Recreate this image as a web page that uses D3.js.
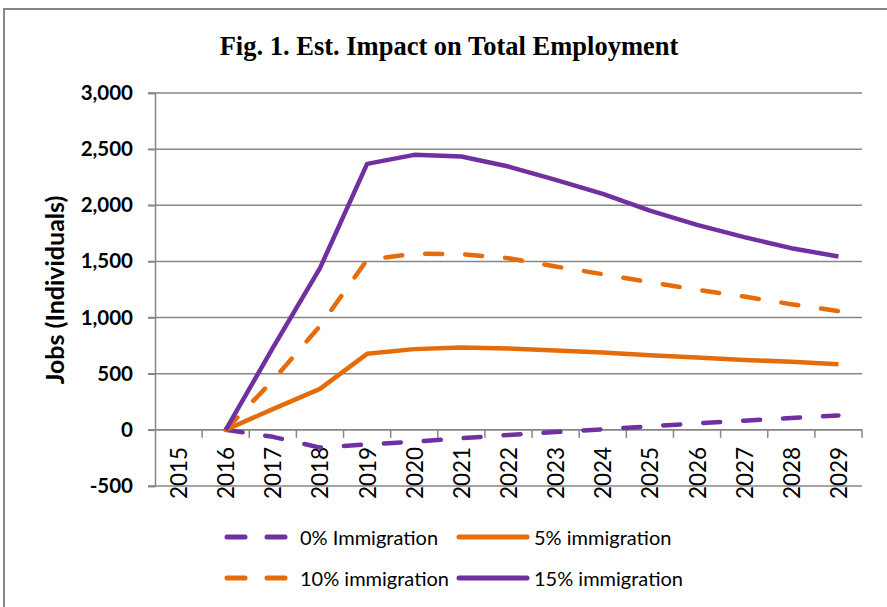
<!DOCTYPE html>
<html>
<head>
<meta charset="utf-8">
<script src="https://cdn.jsdelivr.net/npm/d3@7.9.0/dist/d3.min.js"></script>
<style>
  body { margin: 0; background: #fff; }
  svg { display: block; }
  text { font-family: Lato, 'Open Sans', sans-serif; fill: #000; }
</style>
</head>
<body>
<svg width="887" height="607"></svg>
<script>
const years = ['2015', '2016', '2017', '2018', '2019', '2020', '2021', '2022',
  '2023', '2024', '2025', '2026', '2027', '2028', '2029'];
const yTicks = [-500, 0, 500, 1000, 1500, 2000, 2500, 3000];

// 2015 has no value
const imm0 = [null, 0, -62, -158, -130, -105, -75, -45, -20, 5, 32, 58, 82, 105, 128];
const imm5 = [null, 0, 185, 365, 677, 719, 733, 724, 707, 689, 665, 644, 623, 606, 585];
const imm10 = [null, 0, 440, 925, 1514, 1568, 1565, 1529, 1455, 1386, 1315, 1247, 1187, 1119, 1057];
const imm15 = [null, 0, 730, 1440, 2369, 2449, 2434, 2345, 2227, 2102, 1953, 1826, 1716, 1618, 1544];

const purple = '#7030a0';
const orange = '#e46c0a';
const grey = '#868686';

const series = [
  { label: '0% Immigration', values: imm0, color: purple, dash: true },
  { label: '5% immigration', values: imm5, color: orange, dash: false },
  { label: '10% immigration', values: imm10, color: orange, dash: true },
  { label: '15% immigration', values: imm15, color: purple, dash: false },
];

const svg = d3.select('svg');

// chart frame
svg.append('rect')
  .attr('x', 4).attr('y', 9).attr('width', 900).attr('height', 620)
  .attr('fill', 'none').attr('stroke', grey).attr('stroke-width', 2);

svg.append('text')
  .attr('x', 449).attr('y', 55)
  .attr('text-anchor', 'middle')
  .style('font-family', "'Liberation Serif', 'Times New Roman', serif")
  .style('font-weight', 'bold')
  .style('font-size', '26.5px')
  .text('Fig. 1. Est. Impact on Total Employment');

const x = d3.scaleBand().domain(years).range([155, 862]);
const y = d3.scaleLinear().domain([-500, 3000]).range([486, 93]);

// gridlines
svg.append('g')
  .selectAll('line')
  .data(yTicks)
  .join('line')
  .attr('x1', 148).attr('x2', 862)
  .attr('y1', (d) => y(d)).attr('y2', (d) => y(d))
  .attr('stroke', grey).attr('stroke-width', 1.5);

// y axis
const yAxis = svg.append('g')
  .attr('transform', 'translate(155,0)')
  .call(d3.axisLeft(y).tickValues(yTicks).tickSize(7).tickPadding(15)
    .tickFormat((d) => d3.format(',')(d).replace('\u2212', '-')));
yAxis.select('.domain').attr('stroke', grey).attr('stroke-width', 1.5);
yAxis.selectAll('.tick line').attr('stroke', grey).attr('stroke-width', 1.5);
yAxis.selectAll('.tick text')
  .style('font-family', 'Lato, sans-serif')
  .style('font-weight', 'bold')
  .style('font-size', '20.5px');

svg.append('text')
  .attr('transform', 'translate(64,290) rotate(-90)')
  .attr('text-anchor', 'middle')
  .style('font-weight', 'bold')
  .style('font-size', '25px')
  .text('Jobs (Individuals)');

// x axis at zero
const y0 = y(0);
svg.append('line')
  .attr('x1', 155).attr('x2', 862).attr('y1', y0).attr('y2', y0)
  .attr('stroke', grey).attr('stroke-width', 1.5);

const edges = years.map((d) => x(d)).concat([x.range()[1]]);
svg.append('g')
  .selectAll('line')
  .data(edges.slice(1))
  .join('line')
  .attr('x1', (d) => d).attr('x2', (d) => d)
  .attr('y1', y0).attr('y2', y0 + 8)
  .attr('stroke', grey).attr('stroke-width', 1.5);

svg.append('g')
  .selectAll('text')
  .data(years)
  .join('text')
  .attr('transform', (d) => `translate(${x(d) + x.bandwidth() / 2},${y0 + 17}) rotate(-90)`)
  .attr('text-anchor', 'end')
  .attr('dominant-baseline', 'central')
  .style('font-size', '22.5px')
  .text((d) => d);

// lines
const line = d3.line()
  .defined((d) => d.v != null)
  .x((d) => x(d.year) + x.bandwidth() / 2)
  .y((d) => y(d.v));

series.forEach((s) => {
  svg.append('path')
    .datum(years.map((year, i) => ({ year, v: s.values[i] })))
    .attr('d', line)
    .attr('fill', 'none')
    .attr('stroke', s.color)
    .attr('stroke-width', 4.5)
    .attr('stroke-linejoin', 'round')
    .attr('stroke-linecap', s.dash ? 'round' : 'butt')
    .attr('stroke-dasharray', s.dash ? '17,23' : null);
});

// legend
const legendPos = [[225, 537], [457, 537], [225, 578], [457, 578]];
series.forEach((s, i) => {
  const [lx, ly] = legendPos[i];
  const g = svg.append('g').attr('transform', `translate(${lx},${ly})`);
  if (s.dash) {
    [[2, 20], [42, 60]].forEach(([a, b]) => {
      g.append('line')
        .attr('x1', a).attr('x2', b).attr('y1', 0).attr('y2', 0)
        .attr('stroke', s.color).attr('stroke-width', 5)
        .attr('stroke-linecap', 'round');
    });
  } else {
    g.append('line')
      .attr('x1', 2).attr('x2', 70).attr('y1', 0).attr('y2', 0)
      .attr('stroke', s.color).attr('stroke-width', 5)
      .attr('stroke-linecap', 'round');
  }
  g.append('text')
    .attr('x', s.dash ? 75 : 77).attr('y', 0)
    .attr('dominant-baseline', 'central')
    .style('font-size', '20px')
    .text(s.label);
});
</script>
</body>
</html>
